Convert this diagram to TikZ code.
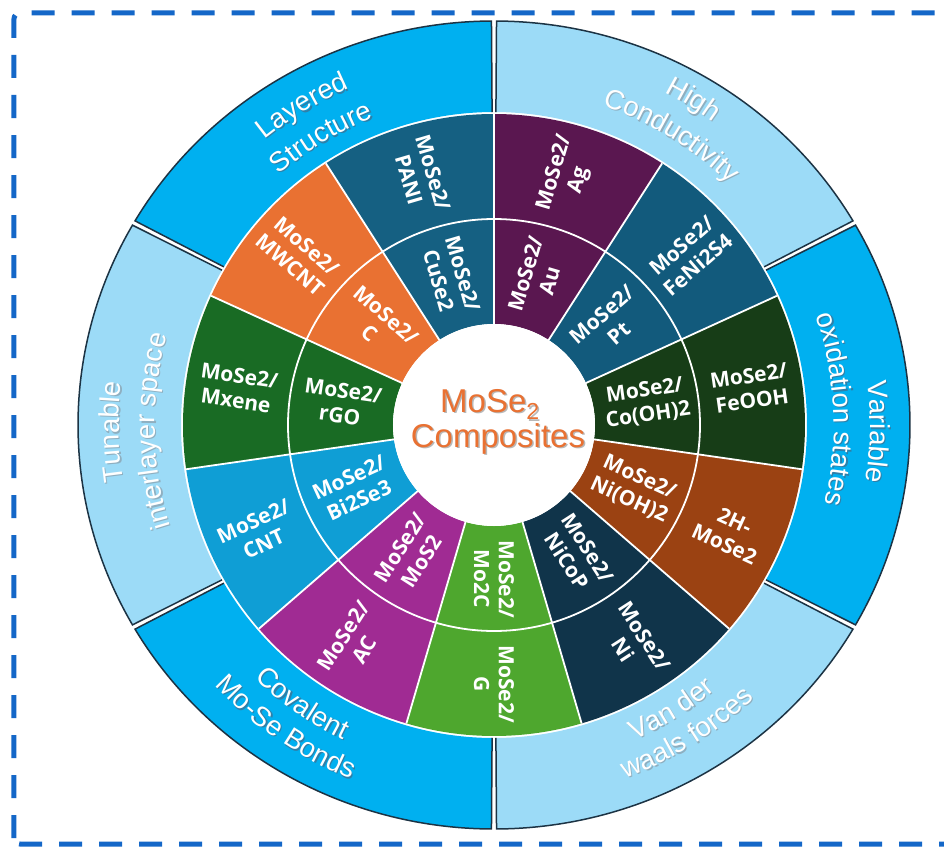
\documentclass[tikz,border=0pt]{standalone}
\usepackage{fontspec}
\setmainfont{Liberation Sans}
\newfontfamily\labfam{Open Sans}
\usetikzlibrary{decorations.text}
\definecolor{cAg}{HTML}{5A1750}
\definecolor{cFe}{HTML}{125A7C}
\definecolor{cFeO}{HTML}{173D17}
\definecolor{cBr}{HTML}{9B4212}
\definecolor{cNi}{HTML}{10344A}
\definecolor{cG}{HTML}{4EA72E}
\definecolor{cAC}{HTML}{A02B93}
\definecolor{cCNT}{HTML}{0F9ED5}
\definecolor{cMx}{HTML}{196B24}
\definecolor{cOr}{HTML}{E97132}
\definecolor{cPA}{HTML}{156082}
\definecolor{cBright}{HTML}{00B0F0}
\definecolor{cLight}{HTML}{9CDBF7}
\definecolor{outl}{HTML}{1C3344}
\definecolor{dashblue}{HTML}{1467C8}
\definecolor{shB}{HTML}{2F7FA8}
\definecolor{shL}{HTML}{8FAFC0}
\definecolor{corange}{HTML}{E97132}
\definecolor{cshadow}{HTML}{B8B8B8}
\newcommand\olfont{\fontsize{27.5}{33}\selectfont}
\newcommand\ringtext[5]{%
  \path[decorate,decoration={text along path,text align=center,text color=#5,text={|\olfont|#4}}]
    ([shift={(1.2pt,-1.2pt)}]#2:#1) arc[start angle=#2,end angle=#3,radius=#1];
  \path[decorate,decoration={text along path,text align=center,text color=white,text={|\olfont|#4}}]
    (#2:#1) arc[start angle=#2,end angle=#3,radius=#1];}
\begin{document}
\begin{tikzpicture}[x=1pt,y=1pt,
  lab/.style={text=white,font={\labfam\bfseries\fontsize{21}{25}\selectfont},align=center,inner sep=0pt},
  sep/.style={white,line width=1.8pt},
  ctext/.style={font={\fontsize{33}{38}\selectfont},anchor=base,inner sep=0pt},
  border/.style={dashblue,line width=5pt,dash pattern=on 23pt off 17pt,rounded corners=6pt}]
\useasboundingbox (-494,-422) rectangle (450,425);
\clip (-494,-422) rectangle (450,425);
\fill[white] (-494,-422) rectangle (450,425);
\draw[border] (-480,-419) rectangle (470,412);
% coloured sectors
\foreach \a/\col in {57.273/cAg,24.545/cFe,-8.182/cFeO,-40.909/cBr,-73.636/cNi,-106.364/cG,-139.091/cAC,-171.818/cCNT,155.455/cMx,122.727/cOr,90/cPA}
 {\fill[\col] (\a:101pt) arc[start angle=\a,end angle=\a+32.727,radius=101pt] -- (\a+32.727:311pt) arc[start angle=\a+32.727,end angle=\a,radius=311pt] -- cycle;}
\foreach \a in {57.273,24.545,-8.182,-40.909,-73.636,-106.364,-139.091,-171.818,155.455,122.727,90}
 {\draw[sep] (\a:101pt) -- (\a:311pt);}
\draw[sep] (0,0) circle[radius=206pt];
\fill[white] (0,0) circle[radius=101pt];
% outer ring
\foreach \a/\col in {30/cLight,90/cBright,150/cLight,210/cBright,270/cLight,330/cBright}
 {\fill[\col] (\a+0.35:313pt) -- (\a+0.35:416pt and 404pt) arc[start angle=\a+0.35,end angle=\a+59.65,x radius=416pt,y radius=404pt] -- (\a+59.65:313pt) arc[start angle=\a+59.65,end angle=\a+0.35,radius=313pt] -- cycle;
  \draw[outl,line width=1.5pt] (\a+0.35:313pt) -- (\a+0.35:416pt and 404pt) arc[start angle=\a+0.35,end angle=\a+59.65,x radius=416pt,y radius=404pt] -- (\a+59.65:313pt);}
% outer labels
\ringtext{366pt}{166}{76}{Layered}{shB}
\ringtext{330pt}{166}{76}{Structure}{shB}
\ringtext{374pt}{103.5}{13.5}{High}{shL}
\ringtext{337pt}{103.5}{13.5}{Conductivity}{shL}
\ringtext{376pt}{44}{-46}{Variable}{shB}
\ringtext{340pt}{47.7}{-42.3}{oxidation states}{shB}
\ringtext{375pt}{226}{136}{Tunable}{shL}
\ringtext{339pt}{226}{136}{interlayer space}{shL}
\ringtext{349pt}{-169.5}{-79.5}{Covalent}{shB}
\ringtext{382pt}{-169.5}{-79.5}{Mo-Se Bonds}{shB}
\ringtext{345pt}{-103}{-13}{Van der}{shL}
\ringtext{377pt}{-103}{-13}{waals forces}{shL}
% sector labels
\node[lab,rotate=73.636] (m1) at (73.636:259pt) {MoSe2/\\Ag};
\node[lab,rotate=73.636] (i1) at (73.636:154pt) {MoSe2/\\Au};
\node[lab,rotate=40.909] (m2) at (40.909:259pt) {MoSe2/\\FeNi2S4};
\node[lab,rotate=40.909] (i2) at (40.909:154pt) {MoSe2/\\Pt};
\node[lab,rotate=8.182] (m3) at (8.182:259pt) {MoSe2/\\FeOOH};
\node[lab,rotate=8.182] (i3) at (8.182:154pt) {MoSe2/\\Co(OH)2};
\node[lab,rotate=-24.545] (m4) at (-24.545:259pt) {2H-\\MoSe2};
\node[lab,rotate=-24.545] (i4) at (-24.545:154pt) {MoSe2/\\Ni(OH)2};
\node[lab,rotate=-57.273] (m5) at (-57.273:259pt) {MoSe2/\\Ni};
\node[lab,rotate=-57.273] (i5) at (-57.273:154pt) {MoSe2/\\NiCoP};
\node[lab,rotate=-90] (m6) at (-90:259pt) {MoSe2/\\G};
\node[lab,rotate=-90] (i6) at (-90:154pt) {MoSe2/\\Mo2C};
\node[lab,rotate=57.273] (m7) at (-122.727:259pt) {MoSe2/\\AC};
\node[lab,rotate=57.273] (i7) at (-122.727:154pt) {MoSe2/\\MoS2};
\node[lab,rotate=24.545] (m8) at (-155.455:259pt) {MoSe2/\\CNT};
\node[lab,rotate=24.545] (i8) at (-155.455:154pt) {MoSe2/\\Bi2Se3};
\node[lab,rotate=-8.182] (m9) at (171.818:259pt) {MoSe2/\\Mxene};
\node[lab,rotate=-8.182] (i9) at (171.818:154pt) {MoSe2/\\rGO};
\node[lab,rotate=-40.909] (m10) at (139.091:259pt) {MoSe2/\\MWCNT};
\node[lab,rotate=-40.909] (i10) at (139.091:154pt) {MoSe2/\\C};
\node[lab,rotate=-73.636] (m11) at (106.364:259pt) {MoSe2/\\PANI};
\node[lab,rotate=-73.636] (i11) at (106.364:154pt) {MoSe2/\\CuSe2};
% centre title
\node[ctext,text=cshadow] (t1s) at (-2.5,11.5) {MoSe\textsubscript{2}};
\node[ctext,text=cshadow] (t2s) at (5.5,-23.5) {Composites};
\node[ctext,text=corange] (t1) at (-4,13) {MoSe\textsubscript{2}};
\node[ctext,text=corange] (t2) at (4,-22) {Composites};
\end{tikzpicture}
\end{document}
